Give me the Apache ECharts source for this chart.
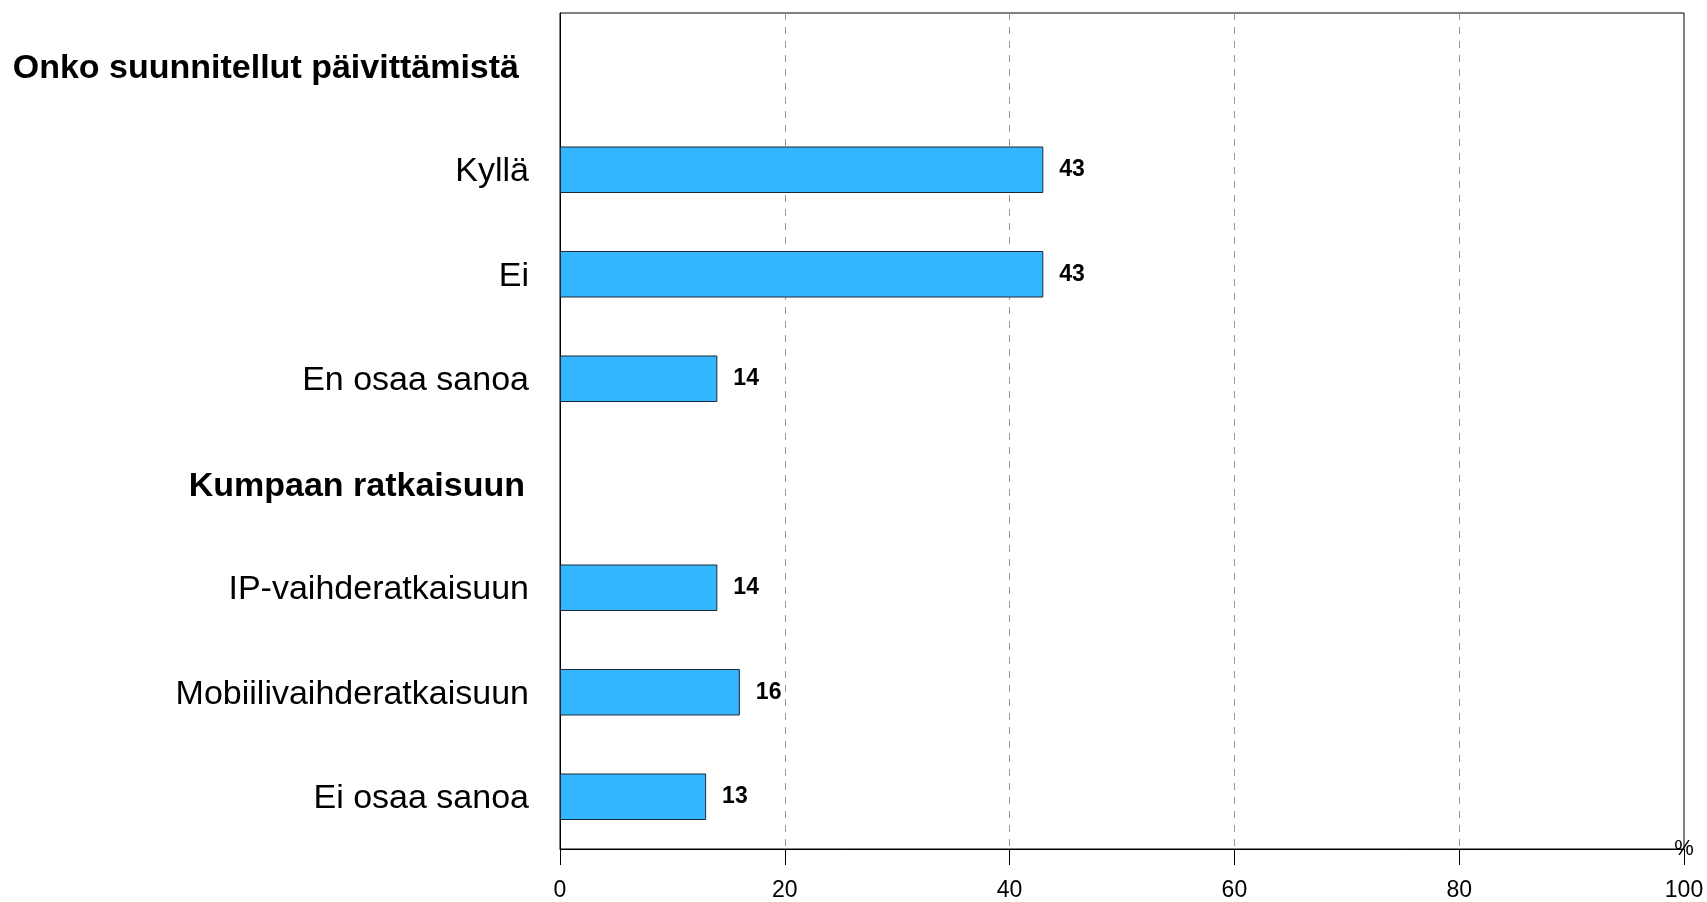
<!DOCTYPE html>
<html>
<head>
<meta charset="utf-8">
<title>Päivittäminen</title>
<script src="https://cdn.jsdelivr.net/npm/echarts@6/dist/echarts.min.js"></script>
<style>
  html, body { margin: 0; padding: 0; background: #fff; }
  #chart { width: 1707px; height: 902px; }
</style>
</head>
<body>
<div id="chart"></div>
<script>
// kategoriat ylhäältä alas, otsikkorivit ilman arvoa
var categories = ['Onko suunnitellut päivittämistä', 'Kyllä', 'Ei', 'En osaa sanoa',
  'Kumpaan ratkaisuun', 'IP-vaihderatkaisuun', 'Mobiilivaihderatkaisuun', 'Ei osaa sanoa']
var headings = ['Onko suunnitellut päivittämistä', 'Kumpaan ratkaisuun']
var values = [null, 43, 43, 14, null, 14, 16, 13]
var xTicks = [0, 20, 40, 60, 80, 100]

var font = 'Liberation Sans, Arial, Helvetica, sans-serif'

var chart = echarts.init(document.getElementById('chart'))

chart.setOption({
  backgroundColor: '#fff',
  animation: false,
  grid: {
    left: 560,
    right: 23,
    top: 13,
    bottom: 50,
    show: true,
    borderColor: '#000',
    borderWidth: 1
  },
  xAxis: {
    type: 'value',
    min: xTicks[0],
    max: xTicks[xTicks.length - 1],
    interval: xTicks[1] - xTicks[0],
    name: '%',
    nameLocation: 'end',
    nameGap: 0,
    nameTextStyle: {
      color: '#000',
      fontFamily: font,
      fontSize: 22,
      align: 'center',
      verticalAlign: 'middle',
      padding: [0, 0, 8, 0]
    },
    axisLine: { show: true, lineStyle: { color: '#000', width: 1 } },
    axisTick: { show: true, length: 16, lineStyle: { color: '#000', width: 1 } },
    axisLabel: {
      color: '#000',
      fontFamily: font,
      fontSize: 23,
      margin: 30
    },
    splitLine: {
      show: true,
      showMinLine: false,
      showMaxLine: false,
      lineStyle: { color: '#999', type: [7, 7], width: 1 }
    }
  },
  yAxis: {
    type: 'category',
    inverse: true,
    data: categories,
    axisLine: { show: true, lineStyle: { color: '#000', width: 1 } },
    axisTick: { show: false },
    splitLine: { show: false },
    axisLabel: {
      margin: 31,
      interval: 0,
      color: '#000',
      fontFamily: font,
      fontSize: 34,
      formatter: function (v) {
        var i = headings.indexOf(v)
        if (i === 0) return '{h1|' + v + '}'
        if (i === 1) return '{h2|' + v + '}'
        return '{n|' + v + '}'
      },
      rich: {
        h1: { fontFamily: font, fontSize: 34, fontWeight: 'bold', color: '#000', padding: [6, 10, 0, 0] },
        h2: { fontFamily: font, fontSize: 34, fontWeight: 'bold', color: '#000', padding: [6, 4, 0, 0] },
        n: { fontFamily: font, fontSize: 34, color: '#000', padding: [4, 0, 0, 0] }
      }
    }
  },
  series: [{
    type: 'bar',
    data: values,
    barWidth: '44.5%',
    itemStyle: {
      color: '#33b5ff',
      borderColor: '#1e2a33',
      borderWidth: 1
    },
    label: {
      show: true,
      position: 'right',
      distance: 16,
      color: '#000',
      fontFamily: font,
      fontSize: 23,
      fontWeight: 'bold'
    }
  }]
})
</script>
</body>
</html>
